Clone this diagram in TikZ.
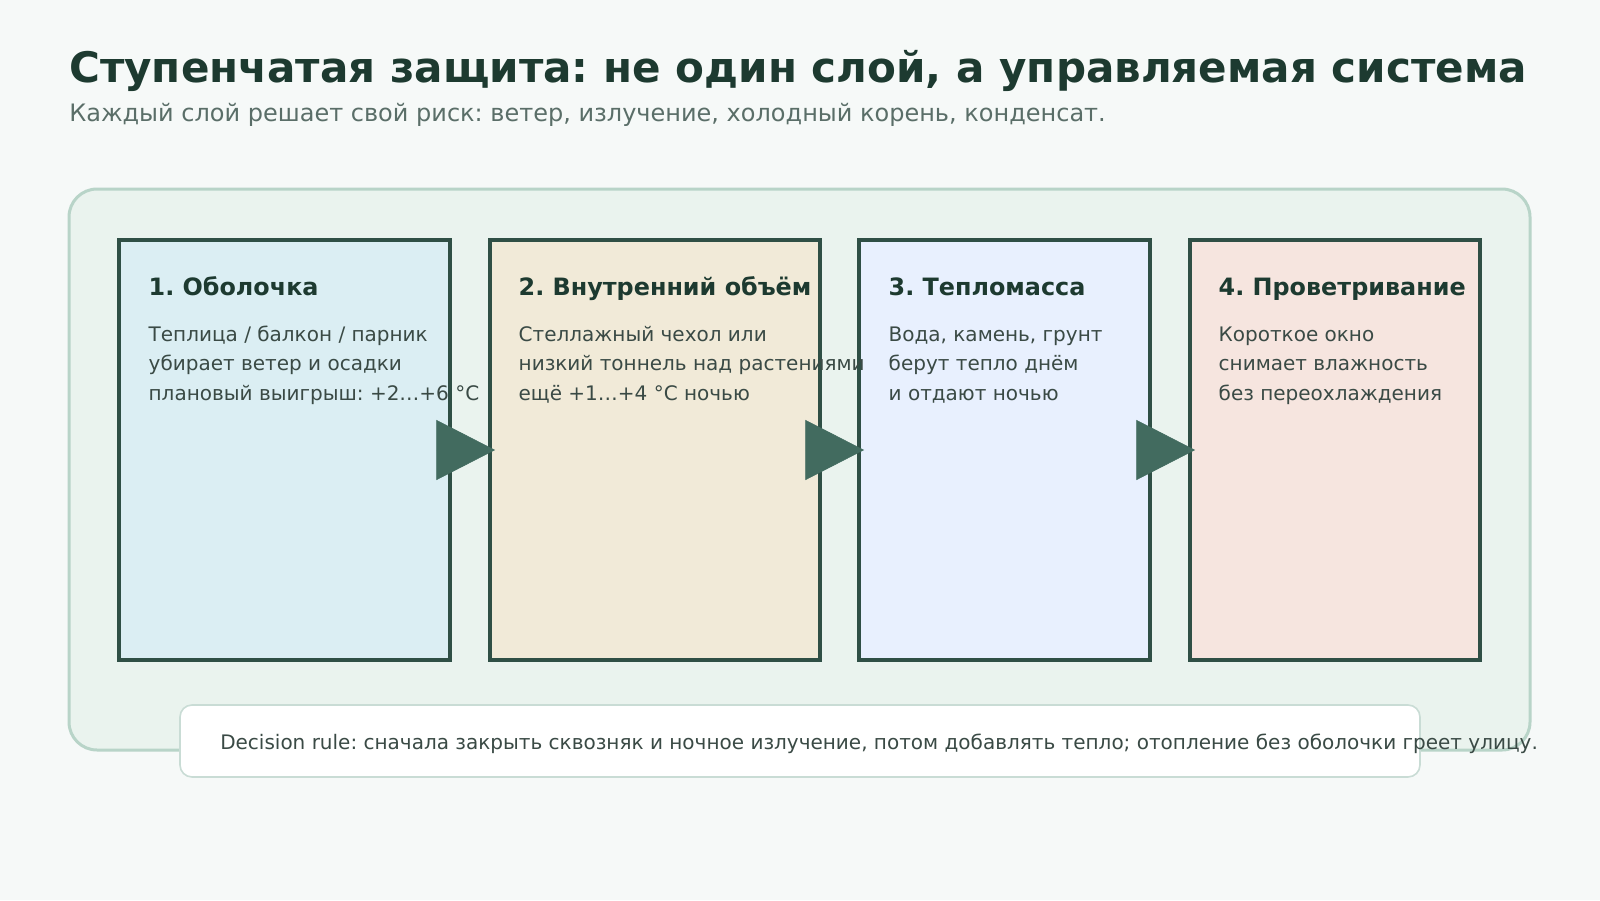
\documentclass[tikz,border=0pt]{standalone}
\usepackage{fontspec}
\setmainfont{DejaVu Sans}
\frenchspacing
\usetikzlibrary{arrows.meta,calc}
\definecolor{bgc}{HTML}{F6F9F8}
\definecolor{titlec}{HTML}{1D3A30}
\definecolor{subc}{HTML}{5A6E68}
\definecolor{panelfill}{HTML}{EAF3EE}
\definecolor{panelline}{HTML}{B8D4C8}
\definecolor{boxline}{HTML}{2F4F45}
\definecolor{fillA}{HTML}{DBEEF3}
\definecolor{fillB}{HTML}{F1EAD8}
\definecolor{fillC}{HTML}{E8F0FE}
\definecolor{fillD}{HTML}{F6E5DF}
\definecolor{bodyc}{HTML}{3A4A45}
\definecolor{arrowc}{HTML}{426B5F}
\definecolor{ruleline}{HTML}{C9DCD5}
\tikzset{
  stagebox/.style={draw=boxline, line width=2.4pt, minimum height=420*0.75pt, inner sep=0pt},
  boxtitle/.style={anchor=base west, inner sep=0pt, text=titlec, font=\fontsize{17.9}{21}\selectfont\bfseries},
  boxbody/.style={anchor=base west, inner sep=0pt, text=bodyc, align=left, font=\fontsize{15}{22.2}\selectfont},
  flow/.style={draw=arrowc, fill=arrowc, line width=0.4pt, shorten >=-5pt,
    -{Triangle[length=44pt, width=45pt]}},
}
\begin{document}
\begin{tikzpicture}[x=0.75pt, y=-0.75pt]
\useasboundingbox (0,0) rectangle (1600,900);
\fill[bgc] (0,0) rectangle (1600,900);
\node[anchor=base west, inner sep=0pt, text=titlec, font=\fontsize{31.55}{36}\selectfont\bfseries] (title) at (69,82) {Ступенчатая защита: не один слой, а управляемая система};
\node[anchor=base west, inner sep=0pt, text=subc, font=\fontsize{18}{22}\selectfont] (sub) at (69,121) {Каждый слой решает свой риск: ветер, излучение, холодный корень, конденсат.};
\draw[draw=panelline, fill=panelfill, line width=2.25pt, rounded corners=21pt] (69,189) rectangle (1530,750);
\node[stagebox, fill=fillA, minimum width=331*0.75pt] (b1) at (284.5,450) {};
\node[stagebox, fill=fillB, minimum width=330*0.75pt] (b2) at (655,450) {};
\node[stagebox, fill=fillC, minimum width=291*0.75pt] (b3) at (1004.5,450) {};
\node[stagebox, fill=fillD, minimum width=290*0.75pt] (b4) at (1335,450) {};
\node[boxtitle] (h1) at ($(b1.north west)+(31,57)$) {1. Оболочка};
\node[boxtitle] (h2) at ($(b2.north west)+(30,57)$) {2. Внутренний объём};
\node[boxtitle] (h3) at ($(b3.north west)+(31,57)$) {3. Тепломасса};
\node[boxtitle] (h4) at ($(b4.north west)+(30,57)$) {4. Проветривание};
\node[boxbody] (p1) at ($(b1.north west)+(31,162)$) {Теплица / балкон / парник\\убирает ветер и осадки\\плановый выигрыш: +2…+6 °C};
\node[boxbody] (p2) at ($(b2.north west)+(30,162)$) {Стеллажный чехол или\\низкий тоннель над растениями\\ещё +1…+4 °C ночью};
\node[boxbody] (p3) at ($(b3.north west)+(31,162)$) {Вода, камень, грунт\\берут тепло днём\\и отдают ночью};
\node[boxbody] (p4) at ($(b4.north west)+(30,162)$) {Короткое окно\\снимает влажность\\без переохлаждения};
\draw[flow] (b1.east) -- (b2.west);
\draw[flow] (b2.east) -- (b3.west);
\draw[flow] (b3.east) -- (b4.west);
\node[draw=ruleline, fill=white, line width=1.2pt, rounded corners=9pt, minimum width=1240*0.75pt, minimum height=72*0.75pt, inner sep=0pt] (rule) at (800,741) {};
\node[anchor=base west, inner sep=0pt, text=bodyc, font=\fontsize{15}{18}\selectfont] (ruletext) at (220,749) {Decision rule: сначала закрыть сквозняк и ночное излучение, потом добавлять тепло; отопление без оболочки греет улицу.};
\end{tikzpicture}
\end{document}
